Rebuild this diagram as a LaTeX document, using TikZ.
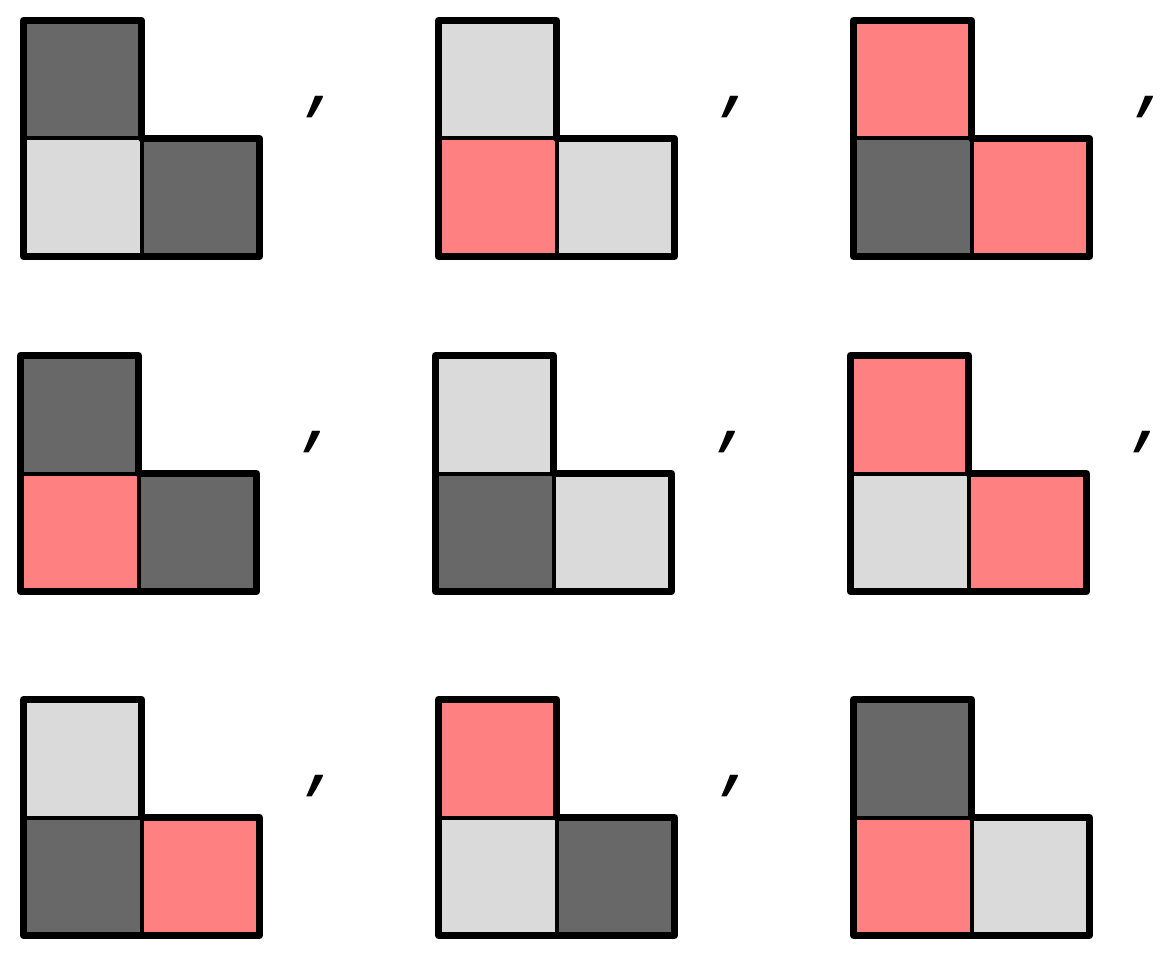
\documentclass[tikz,border=0pt]{standalone}
\usepackage{fontspec}
\newfontfamily\commafont{Open Sans}
\definecolor{dk}{RGB}{104,104,104}
\definecolor{lt}{RGB}{218,218,218}
\definecolor{pk}{RGB}{255,128,128}
\tikzset{
  outline/.style={line width=7pt, line join=round, line cap=round},
  innerline/.style={line width=4pt},
  sepmark/.style={font=\commafont\itshape\fontsize{88}{88}\selectfont, inner sep=0pt},
}
\newcommand\Lpiece[5]{%
  \begin{scope}[shift={(#1,#2)}]
    \fill[#3] (0,0) rectangle (118,118);
    \fill[#4] (0,118) rectangle (118,236);
    \fill[#5] (118,118) rectangle (236,236);
    \draw[innerline] (0,118) -- (118,118) -- (118,236);
    \draw[outline] (0,0) -- (118,0) -- (118,118) -- (236,118) -- (236,236) -- (0,236) -- cycle;
  \end{scope}}
\newcommand\Sepmark[3]{%
  \node[sepmark] (#3) at ({#1+298},{#2+87}) {,};}
\begin{document}
\begin{tikzpicture}[x=1pt,y=-1pt]
\useasboundingbox (0,0) rectangle (1168,955);
% row 1
\Lpiece{23.5}{20.5}{dk}{lt}{dk}
\Sepmark{23.5}{20.5}{s1}
\Lpiece{438.5}{20.5}{lt}{pk}{lt}
\Sepmark{438.5}{20.5}{s2}
\Lpiece{853.5}{20.5}{pk}{dk}{pk}
\Sepmark{853.5}{20.5}{s3}
% row 2
\Lpiece{20.5}{355.5}{dk}{pk}{dk}
\Sepmark{20.5}{355.5}{s4}
\Lpiece{435.5}{355.5}{lt}{dk}{lt}
\Sepmark{435.5}{355.5}{s5}
\Lpiece{850.5}{355.5}{pk}{lt}{pk}
\Sepmark{850.5}{355.5}{s6}
% row 3
\Lpiece{23.5}{699.5}{lt}{dk}{pk}
\Sepmark{23.5}{699.5}{s7}
\Lpiece{438.5}{699.5}{pk}{lt}{dk}
\Sepmark{438.5}{699.5}{s8}
\Lpiece{853.5}{699.5}{dk}{pk}{lt}
\end{tikzpicture}
\end{document}
